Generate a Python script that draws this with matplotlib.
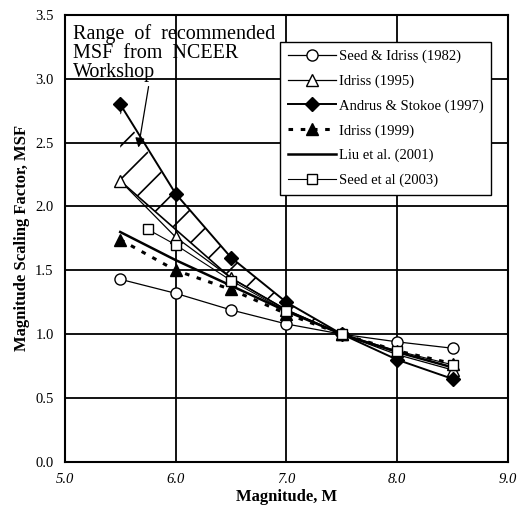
import matplotlib
matplotlib.use("Agg")
import matplotlib.pyplot as plt

plt.rcParams['font.family'] = ['Liberation Serif', 'DejaVu Serif']
plt.rcParams['hatch.linewidth'] = 1.2

# Data
mag = [5.5, 6.0, 6.5, 7.0, 7.5, 8.0, 8.5]
seed_idriss_1982 = [1.43, 1.32, 1.19, 1.08, 1.00, 0.94, 0.89]
idriss_1995 = [2.20, 1.76, 1.44, 1.19, 1.00, 0.84, 0.72]
andrus_stokoe_1997 = [2.80, 2.10, 1.60, 1.25, 1.00, 0.80, 0.65]
idriss_1999 = [1.74, 1.50, 1.35, 1.16, 1.00, 0.87, 0.77]
liu_2001 = [1.80, 1.58, 1.38, 1.18, 1.00, 0.86, 0.74]
mag_seed_2003 = [5.75, 6.0, 6.5, 7.0, 7.5, 8.0, 8.5]
seed_2003 = [1.82, 1.70, 1.42, 1.18, 1.00, 0.87, 0.76]

# NCEER recommended range (hatched)
nceer_mag = [5.5, 6.0, 6.5, 7.0, 7.5]
nceer_lower = [2.20, 1.82, 1.44, 1.19, 1.00]
nceer_upper = [2.75, 2.10, 1.60, 1.25, 1.00]

fig = plt.figure(figsize=(5.27, 5.11), dpi=100)
ax = fig.add_axes([0.123, 0.096, 0.841, 0.875])

ax.fill_between(nceer_mag, nceer_lower, nceer_upper, facecolor='none',
                edgecolor='black', hatch='/', linewidth=0, zorder=2)
ax.plot(nceer_mag, nceer_lower, '-', color='black', lw=1.2, zorder=2)

ax.plot(mag, seed_idriss_1982, '-o', color='black', lw=0.9, ms=8,
        mfc='white', mec='black', mew=1.0, label='Seed & Idriss (1982)', zorder=3)
ax.plot(mag, idriss_1995, '-^', color='black', lw=0.9, ms=8,
        mfc='white', mec='black', mew=1.0, label='Idriss (1995)', zorder=3)
ax.plot(mag, andrus_stokoe_1997, '-D', color='black', lw=1.4, ms=7.5,
        mfc='black', label='Andrus & Stokoe (1997)', zorder=3)
ax.plot(mag, idriss_1999, '^', color='black', ls=(0, (1.5, 2.5)), lw=2.2, ms=9,
        mfc='black', label='Idriss (1999)', zorder=3)
ax.plot(mag, liu_2001, '-', color='black', lw=1.8, label='Liu et al. (2001)', zorder=3)
ax.plot(mag_seed_2003, seed_2003, '-s', color='black', lw=0.8, ms=7,
        mfc='white', mec='black', mew=1.0, label='Seed et al (2003)', zorder=3)

ax.set_xlim(5.0, 9.0)
ax.set_ylim(0.0, 3.5)
ax.set_xticks([5.0, 6.0, 7.0, 8.0, 9.0])
ax.set_yticks([0.0, 0.5, 1.0, 1.5, 2.0, 2.5, 3.0, 3.5])
ax.set_xticklabels(['5.0', '6.0', '7.0', '8.0', '9.0'], style='italic')
ax.tick_params(length=0, labelsize=10.5, pad=8)
ax.grid(True, color='black', lw=1.3)
ax.set_axisbelow(True)
for s in ax.spines.values():
    s.set_linewidth(1.5)

ax.set_xlabel('Magnitude, M', fontsize=12, fontweight='bold', labelpad=2)
ax.set_ylabel('Magnitude Scaling Factor, MSF', fontsize=12, fontweight='bold', labelpad=4)

ax.text(5.075, 3.43, 'Range  of  recommended\nMSF  from  NCEER\nWorkshop',
        fontsize=14.5, va='top', ha='left', linespacing=1.0)
ax.annotate('', xy=(5.66, 2.44), xytext=(5.76, 2.96),
            arrowprops=dict(arrowstyle='-|>', color='black', lw=0.9, mutation_scale=14))

leg = ax.legend(loc='upper left', bbox_to_anchor=(0.47, 0.955), frameon=True,
                fancybox=False, edgecolor='black', framealpha=1.0, fontsize=10.5,
                handlelength=3.3, borderpad=0.5, labelspacing=0.78, handletextpad=0.2)
leg.get_frame().set_linewidth(1.0)

fig.savefig('out.png', dpi=100)
